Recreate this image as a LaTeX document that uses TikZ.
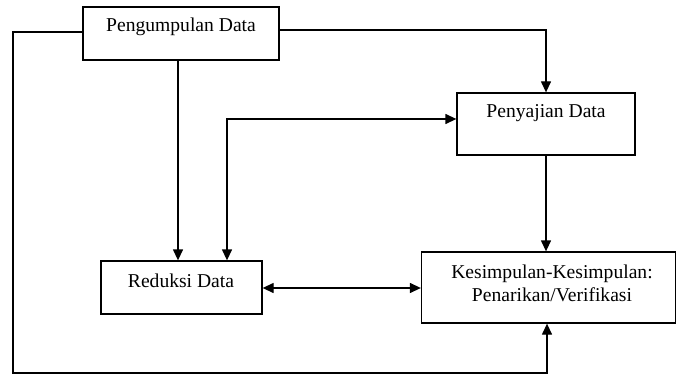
\documentclass[tikz,border=0pt]{standalone}
\usepackage{fontspec}
\setmainfont{Liberation Serif}
\usetikzlibrary{arrows.meta}
\begin{document}
\begin{tikzpicture}[x=1pt,y=-1pt,
  box/.style={draw, line width=1.3pt, inner sep=0pt},
  lbl/.style={font=\fontsize{19.6}{23}\selectfont, inner sep=0pt, align=center},
  tip/.style={Triangle[length=11pt,width=10pt]},
  link/.style={line width=1.3pt, -{Triangle[length=11pt,width=10pt]}},
  both/.style={line width=1.3pt, {Triangle[length=11pt,width=10pt]}-{Triangle[length=11pt,width=10pt]}},
]
\useasboundingbox (0,0) rectangle (677,374);

% boxes
\node[box, minimum width=196pt, minimum height=53pt] (peng) at (181,33.5) {};
\node[box, minimum width=178pt, minimum height=62pt] (peny) at (546,124) {};
\node[box, minimum width=161pt, minimum height=53pt] (red)  at (181.5,287.5) {};
\node[box, minimum width=254pt, minimum height=71pt] (kes)  at (548.5,287.5) {};

% labels
\node[lbl] (tpeng) at (181,27) {Pengumpulan Data};
\node[lbl] (tpeny) at (546,113) {Penyajian Data};
\node[lbl] (tred)  at (181,281) {Reduksi Data};
\node[lbl] (tkes)  at (552,283.5) {Kesimpulan-Kesimpulan:\\Penarikan/Verifikasi};

% outer loop corners
\coordinate (cl) at (13,32);
\coordinate (cb) at (13,373);

% connectors
\draw[link] ([yshift=1.5pt]peng.west) -- (cl) -- (cb) -| ([xshift=-1.5pt]kes.south);
\draw[link] ([yshift=3.5pt]peng.east) -| (peny.north);
\draw[link] ([xshift=-3pt]peng.south) -- ([xshift=-3.5pt]red.north);
\draw[both] ([xshift=45.5pt]red.north) |- ([yshift=5pt]peny.west);
\draw[link] (peny.south) -- ([xshift=-2.5pt]kes.north);
\draw[both] ([yshift=-0.5pt]red.east) -- ([yshift=-0.5pt]kes.west);
\end{tikzpicture}
\end{document}
